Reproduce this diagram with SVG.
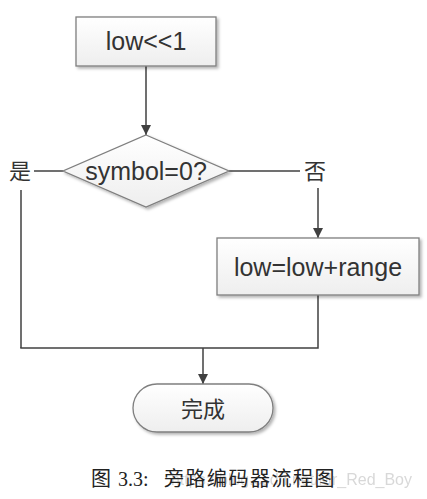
<svg xmlns="http://www.w3.org/2000/svg" width="427" height="499" viewBox="0 0 427 499">
<style>
.box{fill:url(#g);stroke:#7f7f7f;stroke-width:1.3;filter:url(#sh)}
.ln{fill:none;stroke:#404040;stroke-width:1.5}
.t{font-family:"Liberation Sans",Arial,sans-serif;font-size:25px;fill:#333;text-anchor:middle}
.cj{font-family:"Noto Sans CJK SC",sans-serif;font-size:22px;fill:#333;text-anchor:middle}
.cap{font-family:"Liberation Serif","Noto Sans CJK SC",serif;font-size:20px;fill:#222}
</style>
<defs>
<linearGradient id="g" x1="0" y1="0" x2="0" y2="1"><stop offset="0" stop-color="#ffffff"/><stop offset="1" stop-color="#eeeeee"/></linearGradient>
<filter id="sh" x="-10%" y="-10%" width="130%" height="140%"><feDropShadow dx="2" dy="2" stdDeviation="1.5" flood-color="#000" flood-opacity="0.3"/></filter>
<marker id="ar" viewBox="0 0 10 10" refX="10" refY="5" markerWidth="10" markerHeight="10" markerUnits="userSpaceOnUse" orient="auto"><path d="M0,0 L10,5 L0,10 z" fill="#404040"/></marker>
</defs>
<g id="connectors">
<line class="ln" x1="146" y1="66" x2="146" y2="135" marker-end="url(#ar)"/>
<line class="ln" x1="63" y1="171" x2="34" y2="171"/>
<line class="ln" x1="21" y1="190" x2="21" y2="348"/>
<line class="ln" x1="229" y1="171" x2="300" y2="171"/>
<line class="ln" x1="318" y1="188" x2="318" y2="238" marker-end="url(#ar)"/>
<polyline class="ln" points="318,295 318,348 203,348"/>
<line class="ln" x1="20.25" y1="348" x2="203" y2="348"/>
<line class="ln" x1="203" y1="348" x2="203" y2="384" marker-end="url(#ar)"/>
<text class="cj" x="20" y="179">是</text>
<text class="cj" x="315" y="179">否</text>
</g>
<g id="n1">
<rect class="box" x="76" y="17" width="140" height="49"/>
<text class="t" x="146" y="50">low&lt;&lt;1</text>
</g>
<g id="n2">
<polygon class="box" points="146,135 229,171 146,207 63,171"/>
<text class="t" x="146" y="180">symbol=0?</text>
</g>
<g id="n3">
<rect class="box" x="217" y="238" width="202" height="57"/>
<text class="t" x="318" y="276">low=low+range</text>
</g>
<g id="n4">
<rect class="box" x="133" y="384" width="140" height="48" rx="24" ry="24"/>
<text class="cj" x="203" y="417" font-size="24">完成</text>
</g>
<g id="caption">
<text x="412" y="485" text-anchor="end" style="font-family:'Liberation Sans',Arial,sans-serif;font-size:16px;fill:#cfcfcf;opacity:0.8">https://blog.csdn.net/Mr_Red_Boy</text>
<text class="cap" y="486"><tspan x="91">图</tspan><tspan x="118">3.3:</tspan><tspan x="164" letter-spacing="1.5">旁路编码器流程图</tspan></text>
</g>
</svg>
